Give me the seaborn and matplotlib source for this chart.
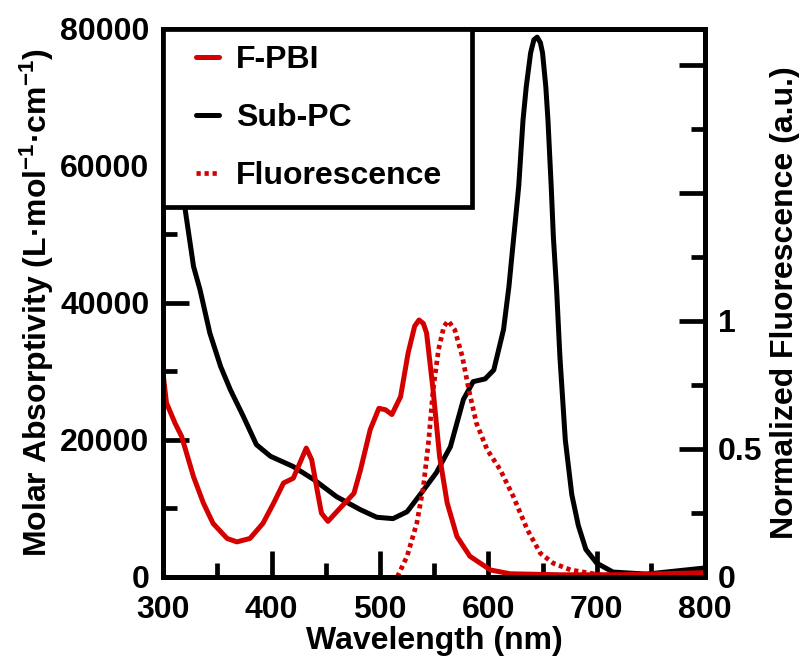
import numpy as np
import pandas as pd
import matplotlib
matplotlib.use("Agg")
import matplotlib.pyplot as plt
import seaborn as sns
from matplotlib.ticker import MultipleLocator, FixedLocator, FixedFormatter
from matplotlib.lines import Line2D
from matplotlib.legend_handler import HandlerLine2D

# ---- data ----
subpc_nm = [300, 310, 320, 328, 334, 343, 353, 362, 374, 386, 399, 420, 439, 460, 482,
            497, 512, 525, 537, 552, 565, 577, 586, 597, 605, 614, 619, 622, 625, 628,
            630, 632, 635, 639, 642, 645, 648, 650, 653, 655, 658, 660, 663, 666, 671,
            677, 683, 690, 700, 715, 746, 800]
subpc_val = [72000, 63000, 53900, 45300, 41900, 35600, 30700, 27300, 23400, 19300, 17600,
             16100, 14200, 11700, 9800, 8700, 8500, 9500, 12000, 15200, 19000, 25900,
             28500, 28900, 30200, 36100, 42400, 47300, 52100, 57000, 61900, 66700, 71600,
             76500, 78400, 78800, 78000, 76500, 71600, 66700, 57000, 49600, 41900, 32200,
             20000, 12000, 7500, 4000, 2000, 700, 400, 1300]

fpbi_nm = [300, 303, 311, 317, 328, 337, 346, 359, 368, 380, 392, 402, 411, 420, 426,
           432, 437, 442, 446, 452, 463, 476, 482, 491, 499, 505, 511, 519, 526, 532,
           536, 540, 543, 549, 555, 562, 571, 583, 602, 620, 666, 720, 800]
fpbi_val = [29500, 25400, 22400, 20500, 14600, 10800, 7800, 5600, 5100, 5600, 7800,
            10800, 13700, 14400, 16600, 18800, 17100, 12700, 9300, 8100, 10000, 12200,
            15600, 21500, 24600, 24400, 23700, 26300, 32700, 36600, 37500, 37000, 35600,
            27300, 17600, 10800, 5900, 3000, 1000, 450, 300, 300, 600]

fluor_nm = [516, 525, 534, 540, 545, 549, 554, 559, 563, 569, 576, 582, 589, 599, 611,
            623, 636, 648, 660, 676, 703, 750, 800]
fluor_val = [0.0, 0.08, 0.21, 0.35, 0.535, 0.73, 0.887, 0.978, 1.0, 0.965, 0.86, 0.73,
             0.60, 0.496, 0.418, 0.314, 0.184, 0.092, 0.053, 0.027, 0.008, 0.003, 0.0]

x_ticks_major = [300, 400, 500, 600, 700, 800]
y_ticks_major = [0, 20000, 40000, 60000, 80000]
r_ticks_major = [0, 0.5, 1, 1.5, 2]
r_tick_labels = ["0", "0.5", "1", "", ""]
labels = ["F-PBI", "Sub-PC", "Fluorescence"]

RED = "#D40000"
FS = 23

sns.set_style("ticks")
plt.rcParams["font.family"] = ["Liberation Sans", "DejaVu Sans"]
plt.rcParams["font.weight"] = "bold"
plt.rcParams["text.color"] = "black"
plt.rcParams["axes.labelcolor"] = "black"
plt.rcParams["xtick.color"] = "black"
plt.rcParams["ytick.color"] = "black"
plt.rcParams["mathtext.fontset"] = "custom"
plt.rcParams["mathtext.rm"] = "Liberation Sans:bold"
plt.rcParams["mathtext.bf"] = "Liberation Sans:bold"
plt.rcParams["mathtext.default"] = "bf"

fig = plt.figure(figsize=(8.04, 6.57), dpi=100)
ax = fig.add_axes([0.203, 0.122, 0.674, 0.834])
ax2 = ax.twinx()

df_f = pd.DataFrame({"nm": fpbi_nm, "v": fpbi_val})
df_s = pd.DataFrame({"nm": subpc_nm, "v": subpc_val})
df_fl = pd.DataFrame({"nm": fluor_nm, "v": fluor_val})

sns.lineplot(data=df_s, x="nm", y="v", ax=ax, color="black", lw=3.6, legend=False)
sns.lineplot(data=df_f, x="nm", y="v", ax=ax, color=RED, lw=3.6, legend=False)
sns.lineplot(data=df_fl, x="nm", y="v", ax=ax2, color=RED, lw=3.4, legend=False)
ax2.lines[0].set_dashes([0.9, 0.8])
for ln in ax.lines + ax2.lines:
    ln.set_solid_joinstyle("round")

ax.set_xlim(300, 800)
ax.set_ylim(0, 80000)
ax2.set_ylim(0, 2.14)

ax.xaxis.set_major_locator(FixedLocator(x_ticks_major))
ax.xaxis.set_minor_locator(MultipleLocator(50))
ax.yaxis.set_major_locator(FixedLocator(y_ticks_major))
ax.yaxis.set_minor_locator(MultipleLocator(10000))
ax2.yaxis.set_major_locator(FixedLocator(r_ticks_major))
ax2.yaxis.set_major_formatter(FixedFormatter(r_tick_labels))
ax2.yaxis.set_minor_locator(MultipleLocator(0.25))

for a in (ax, ax2):
    for s in a.spines.values():
        s.set_linewidth(3.6)
        s.set_color("black")
    a.tick_params(which="major", direction="in", length=19, width=3.4, labelsize=FS,
                  colors="black")
    a.tick_params(which="minor", direction="in", length=10, width=3.4)
ax.tick_params(axis="y", which="both", left=True, right=False, pad=10)
ax.tick_params(axis="x", which="both", top=False, pad=13)
ax2.tick_params(axis="y", which="both", right=True, left=False, pad=9)

for t in ax.get_xticklabels() + ax.get_yticklabels() + ax2.get_yticklabels():
    t.set_fontweight("bold")

ax.set_xlabel("Wavelength (nm)", fontsize=FS, fontweight="bold", labelpad=1)
ax.set_ylabel("Molar Absorptivity (L\u00b7mol$^{-1}$\u00b7cm$^{-1}$)", fontsize=FS,
              fontweight="bold", labelpad=3)
ax2.set_ylabel("Normalized Fluorescence (a.u.)", fontsize=FS, fontweight="bold",
               labelpad=6)


class ShortHandler(HandlerLine2D):
    def create_artists(self, legend, orig_handle, xdescent, ydescent, width, height,
                       fontsize, trans):
        arts = super().create_artists(legend, orig_handle, xdescent, ydescent, width,
                                      height, fontsize, trans)
        for a in arts:
            xd = np.asarray(a.get_xdata(), dtype=float)
            if len(xd) >= 2 and a.get_linestyle() not in ("None", ""):
                x0 = xd[0] + 0.42 * (xd[-1] - xd[0])
                a.set_xdata(np.linspace(x0, xd[-1], len(xd)))
        return arts


handles = [Line2D([], [], color=RED, lw=3.6),
           Line2D([], [], color="black", lw=3.6),
           Line2D([], [], color=RED, lw=3.4, dashes=[0.9, 0.8])]
leg_w = (472 - 163) / 542
leg = ax2.legend(handles, labels, loc="upper left", bbox_to_anchor=(0, 0, leg_w, 1),
                 mode="expand", borderaxespad=0, fancybox=False, framealpha=1,
                 edgecolor="black", handlelength=1.25, handletextpad=0.53,
                 labelspacing=0.88, borderpad=0.5,
                 handler_map={Line2D: ShortHandler()},
                 prop={"size": FS, "weight": "bold"})
leg.get_frame().set_linewidth(3.4)

fig.savefig("out.png", dpi=100)
